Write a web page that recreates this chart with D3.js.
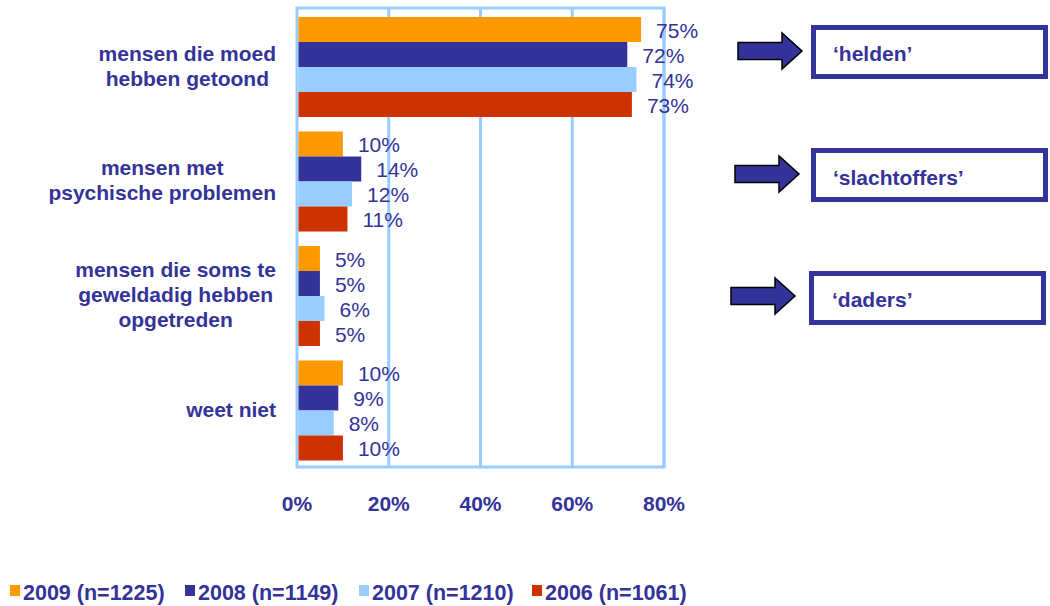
<!DOCTYPE html>
<html>
<head>
<meta charset="utf-8">
<script src="https://cdn.jsdelivr.net/npm/d3@7"></script>
<style>
  body { margin: 0; background: #fff; }
  text { font-family: Arial, "Liberation Sans", sans-serif; }
</style>
</head>
<body>
<script>
const w = 1050;
const h = 606;

const categories = [
  ["mensen die moed", "hebben getoond"],
  ["mensen met", "psychische problemen"],
  ["mensen die soms te", "geweldadig hebben", "opgetreden"],
  ["weet niet"]
];
const series = ["2009 (n=1225)", "2008 (n=1149)", "2007 (n=1210)", "2006 (n=1061)"];
const colors = ["#ff9900", "#333399", "#99ccff", "#cc3300"];
const values = [
  [75, 10, 5, 10], // 2009
  [72, 14, 5, 9],  // 2008
  [74, 12, 6, 8],  // 2007
  [73, 11, 5, 10]  // 2006
];
const ticks = [0, 20, 40, 60, 80];
const boxLabels = ["\u2018helden\u2019", "\u2018slachtoffers\u2019", "\u2018daders\u2019"];

const navy = "#333399";
const grid = "#99ccff";

const svg = d3.select("body").append("svg").attr("width", w).attr("height", h);

const xScale = d3.scaleLinear().domain([0, 80]).range([297, 664]);
const yScale = d3.scaleBand().domain(d3.range(categories.length)).range([8, 466]);
const ySub = d3.scaleBand().domain(d3.range(series.length)).range([9, 109]);

// gridlines
svg.append("g").selectAll("line").data(ticks.slice(1)).enter().append("line")
  .attr("x1", d => xScale(d)).attr("x2", d => xScale(d))
  .attr("y1", 8).attr("y2", 467)
  .attr("stroke", grid).attr("stroke-width", 3);

// frame
svg.append("rect")
  .attr("x", xScale(0)).attr("y", 8)
  .attr("width", xScale(80) - xScale(0)).attr("height", 459)
  .attr("fill", "none").attr("stroke", grid).attr("stroke-width", 3);

// bars
series.forEach((s, si) => {
  const g = svg.append("g");
  g.selectAll("rect").data(values[si]).enter().append("rect")
    .attr("x", xScale(0) + 1.5)
    .attr("y", (d, i) => yScale(i) + ySub(si))
    .attr("width", d => xScale(d) - xScale(0) - 1.5)
    .attr("height", ySub.bandwidth())
    .attr("fill", colors[si]);
  g.selectAll("text").data(values[si]).enter().append("text")
    .attr("x", d => xScale(d) + 15)
    .attr("y", (d, i) => yScale(i) + ySub(si) + ySub.bandwidth() / 2 + 8)
    .attr("fill", navy)
    .style("font-size", "21px")
    .text(d => d + "%");
});

// x axis tick labels
svg.append("g").selectAll("text").data(ticks).enter().append("text")
  .attr("x", d => xScale(d))
  .attr("y", 511)
  .attr("text-anchor", "middle")
  .attr("fill", navy)
  .style("font-size", "21px").style("font-weight", "bold")
  .text(d => d + "%");

// category labels
categories.forEach((lines, i) => {
  const t = svg.append("text")
    .attr("text-anchor", "middle")
    .attr("fill", navy)
    .style("font-size", "21px").style("font-weight", "bold");
  const cy = yScale(i) + yScale.bandwidth() / 2;
  const spans = lines.map((l, j) => t.append("tspan")
    .attr("y", cy + 8 + (j - (lines.length - 1) / 2) * 25)
    .text(l));
  const maxW = d3.max(spans, s => s.node().getComputedTextLength());
  spans.forEach(s => s.attr("x", 276 - maxW / 2));
});

// legend
const legendX = [10, 185, 359, 532];
series.forEach((s, i) => {
  svg.append("rect")
    .attr("x", legendX[i]).attr("y", 585)
    .attr("width", 10).attr("height", 11)
    .attr("fill", colors[i]);
  svg.append("text")
    .attr("x", legendX[i] + 13).attr("y", 600)
    .attr("fill", navy)
    .style("font-size", "21.5px").style("font-weight", "bold")
    .text(s);
});

// arrows and boxes on the right
const boxes = [
  { ax: 738, ay: 51, bx: 811, by: 25, tx: 833, ty: 61 },
  { ax: 735, ay: 174, bx: 811, by: 148, tx: 833, ty: 185 },
  { ax: 731, ay: 296, bx: 809, by: 271, tx: 832, ty: 307 }
];
boxes.forEach((b, i) => {
  const arrow = `M${b.ax},${b.ay - 8.5} H${b.ax + 44} V${b.ay - 18} L${b.ax + 64},${b.ay} L${b.ax + 44},${b.ay + 18} V${b.ay + 8.5} H${b.ax} Z`;
  svg.append("path").attr("d", arrow)
    .attr("fill", navy).attr("stroke", "#000").attr("stroke-width", 1.5);
  svg.append("rect")
    .attr("x", b.bx + 2.5).attr("y", b.by + 2.5)
    .attr("width", 232).attr("height", 49)
    .attr("fill", "#fff").attr("stroke", navy).attr("stroke-width", 5);
  svg.append("text")
    .attr("x", b.tx).attr("y", b.ty)
    .attr("fill", navy)
    .style("font-size", "21px").style("font-weight", "bold")
    .text(boxLabels[i]);
});
</script>
</body>
</html>
